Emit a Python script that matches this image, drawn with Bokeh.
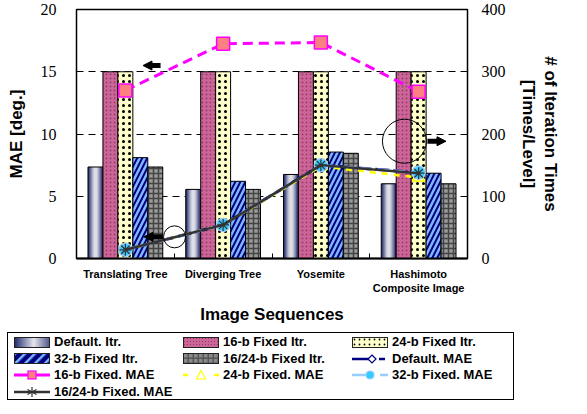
import numpy as np
from bokeh.plotting import figure
from bokeh.layouts import column
from bokeh.models import (Range1d, LinearAxis, FixedTicker, Arrow, NormalHead,
                          ColumnDataSource, Div)
from bokeh.transform import dodge
from bokeh.embed import file_html
from bokeh.resources import INLINE

categories = ["Translating Tree", "Diverging Tree", "Yosemite", "Hashimoto\nComposite Image"]
itr_default = [147, 111, 135, 120]
itr_16b = [300, 300, 300, 300]
itr_24b = [300, 300, 300, 300]
itr_32b = [162, 124, 171, 137]
itr_1624b = [147, 111, 169, 120]
mae_default = [0.7, 2.7, 7.5, 6.9]
mae_16b = [13.5, 17.25, 17.35, 13.4]
mae_24b = [0.7, 2.7, 7.4, 6.5]
mae_32b = [0.7, 2.7, 7.5, 6.9]
mae_1624b = [0.7, 2.7, 7.5, 6.85]
left_ticks = [0, 5, 10, 15, 20]
right_ticks = [0, 100, 200, 300, 400]
legend_labels = ["Default. Itr.", "16-b Fixed Itr.", "24-b Fixed Itr.",
                 "32-b Fixed Itr.", "16/24-b Fixed Itr.", "Default. MAE",
                 "16-b Fixed. MAE", "24-b Fixed. MAE", "32-b Fixed. MAE",
                 "16/24-b Fixed. MAE"]

xs = list(range(len(categories)))
src = ColumnDataSource(dict(x=xs, d=itr_default, b16=itr_16b, b24=itr_24b, b32=itr_32b,
                            b1624=itr_1624b, md=mae_default, m16=mae_16b, m24=mae_24b,
                            m32=mae_32b, m1624=mae_1624b))

FONT = "Liberation Sans"
SERIF = "Liberation Serif"
w = 0.153

p = figure(width=571, height=326, output_backend="svg", toolbar_location=None,
           x_range=Range1d(-0.5, len(categories) - 0.5), y_range=Range1d(0, 20),
           min_border_left=76, min_border_right=104, min_border_top=9, min_border_bottom=0)
p.extra_y_ranges = {"iter": Range1d(0, 400)}
p.outline_line_color = "black"
p.outline_line_width = 1.5
p.xgrid.visible = False
p.ygrid.ticker = FixedTicker(ticks=[5, 10, 15])
p.ygrid.grid_line_color = "black"
p.ygrid.grid_line_dash = "7 5"
p.ygrid.grid_line_width = 1

# Default bars: cylinder-like shading
shade_cols = ["#2B3570", "#4F5688", "#7A7FA6", "#A4A7C0", "#C8C9D8", "#DEDEE6"]
shade_fr = [1.0, 0.84, 0.68, 0.52, 0.36, 0.2]
for c, f in zip(shade_cols, shade_fr):
    p.vbar(x=dodge("x", -2 * w, range=p.x_range), top="d", width=w * f,
           source=src, y_range_name="iter", fill_color=c, line_color=None)
p.vbar(x=dodge("x", -2 * w, range=p.x_range), top="d", width=w, source=src,
       y_range_name="iter", fill_color=None, line_color="black", line_width=1)
p.vbar(x=dodge("x", -w, range=p.x_range), top="b16", width=w, source=src,
       y_range_name="iter", fill_color="#CC6699", line_color="black", line_width=1,
       hatch_pattern="dot", hatch_color="#9A3D6C", hatch_scale=4, hatch_weight=0.8)
p.vbar(x=dodge("x", 0, range=p.x_range), top="b24", width=w, source=src,
       y_range_name="iter", fill_color="#FFFFCC", line_color="black", line_width=1,
       hatch_pattern="dot", hatch_color="black", hatch_scale=6, hatch_weight=1.5)
p.vbar(x=dodge("x", w, range=p.x_range), top="b32", width=w, source=src,
       y_range_name="iter", fill_color="#000080", line_color="black", line_width=1,
       hatch_pattern="/", hatch_color="#7FB8FF", hatch_scale=10, hatch_weight=2.5)
p.vbar(x=dodge("x", 2 * w, range=p.x_range), top="b1624", width=w, source=src,
       y_range_name="iter", fill_color="#9A9A9A", line_color="black", line_width=1,
       hatch_pattern="+", hatch_color="#444444", hatch_scale=5, hatch_weight=1.5)

# MAE lines
p.line("x", "m16", source=src, line_color="#FF00FF", line_width=3, line_dash="10 6")
p.scatter("x", "m16", source=src, marker="square", size=13, fill_color="#FF8080",
          line_color="#FF00FF", line_width=1.5)
p.line("x", "md", source=src, line_color="#000080", line_width=3, line_dash="14 4")
p.scatter("x", "md", source=src, marker="diamond", size=12, fill_color="white",
          line_color="#000080", line_width=1.5)
p.line("x", "m24", source=src, line_color="#FFFF00", line_width=2.5, line_dash="6 6")
p.scatter("x", "m24", source=src, marker="triangle", size=12, fill_color=None,
          line_color="#FFFF00", line_width=1.5)
p.line("x", "m32", source=src, line_color="#99CCFF", line_width=2.5, line_dash="12 5")
p.scatter("x", "m32", source=src, marker="circle", size=13, fill_color="#33CCFF",
          line_color="#99CCFF", line_width=1.5)
p.line("x", "m1624", source=src, line_color="#333333", line_width=2.5)
p.scatter("x", "m1624", source=src, marker="asterisk", size=12,
          line_color="#333333", line_width=1.2)

# annotations: circles and arrows
p.circle(x=[0.503], y=[1.74], radius=11, radius_units="screen", fill_color=None,
         line_color="black", line_width=1)
p.circle(x=[2.855], y=[9.42], radius=22, radius_units="screen", fill_color=None,
         line_color="black", line_width=1)
for xs0, xe0, yy in [(0.36, 0.18, 15.5), (0.38, 0.19, 1.74), (3.09, 3.28, 9.42)]:
    p.add_layout(Arrow(end=NormalHead(size=9, fill_color="black", line_color="black"),
                       x_start=xs0, y_start=yy, x_end=xe0, y_end=yy,
                       line_width=5, line_color="black"))

# axes
xa = p.xaxis[0]
xa.ticker = FixedTicker(ticks=xs, minor_ticks=[i + 0.5 for i in xs[:-1]])
xa.major_label_overrides = {i: c for i, c in enumerate(categories)}
xa.major_tick_in = 0
xa.major_tick_out = 0
xa.minor_tick_in = 5
xa.minor_tick_out = 0
xa.minor_tick_line_color = "black"
xa.axis_line_color = "black"
xa.axis_line_width = 2
xa.major_label_text_font = FONT
xa.major_label_text_font_style = "bold"
xa.major_label_text_font_size = "11px"
xa.major_label_text_color = "black"
xa.major_label_standoff = 9
xa.axis_label = "Image Sequences"
xa.axis_label_text_font = FONT
xa.axis_label_text_font_style = "bold"
xa.axis_label_text_font_size = "17px"
xa.axis_label_text_color = "black"
xa.axis_label_standoff = 8

ya = p.yaxis[0]
ya.ticker = FixedTicker(ticks=left_ticks)
ya.major_tick_in = 0
ya.major_tick_out = 0
ya.minor_tick_line_color = None
ya.axis_line_color = "black"
ya.major_label_text_font = SERIF
ya.major_label_text_font_size = "16px"
ya.major_label_text_color = "black"
ya.major_label_standoff = 20
ya.axis_label = "MAE [deg.]"
ya.axis_label_text_font = FONT
ya.axis_label_text_font_style = "bold"
ya.axis_label_text_font_size = "17px"
ya.axis_label_text_color = "black"
ya.axis_label_standoff = 12

ra = LinearAxis(y_range_name="iter", ticker=FixedTicker(ticks=right_ticks))
ra.major_tick_in = 0
ra.major_tick_out = 0
ra.minor_tick_line_color = None
ra.axis_line_color = "black"
ra.major_label_text_font = SERIF
ra.major_label_text_font_size = "16px"
ra.major_label_text_color = "black"
ra.major_label_standoff = 14
ra.axis_label = "# of Iteration Times\n[Times/Level]"
ra.axis_label_text_font = FONT
ra.axis_label_text_font_style = "bold"
ra.axis_label_text_font_size = "17px"
ra.axis_label_text_color = "black"
ra.axis_label_standoff = 10
p.add_layout(ra, "right")

# ---- legend strip (HTML with inline SVG swatches) ----
def bar_swatch(fill, defs=""):
    return ('<svg width="36" height="11" style="display:block">' + defs +
            '<rect x="0.5" y="0.5" width="35" height="10" fill="%s" stroke="#222" stroke-width="1"/></svg>' % fill)


def line_swatch(color, width, dash, marker):
    d = ' stroke-dasharray="%s"' % dash if dash else ""
    return ('<svg width="36" height="12" style="display:block">'
            '<line x1="0" y1="6" x2="36" y2="6" stroke="%s" stroke-width="%s"%s/>' % (color, width, d)
            + marker + '</svg>')


swatches = [
    bar_swatch("url(#gdef)", '<defs><linearGradient id="gdef" x1="0" x2="1" y1="0" y2="0">'
               '<stop offset="0" stop-color="#1F2A6B"/><stop offset="0.55" stop-color="#E6E6EE"/>'
               '<stop offset="1" stop-color="#4F5688"/></linearGradient></defs>'),
    bar_swatch("url(#p16)", '<defs><pattern id="p16" width="3" height="3" patternUnits="userSpaceOnUse">'
               '<rect width="3" height="3" fill="#CC6699"/><circle cx="1.5" cy="1.5" r="0.6" fill="#8B2F5E"/>'
               '</pattern></defs>'),
    bar_swatch("url(#p24)", '<defs><pattern id="p24" width="5" height="5" patternUnits="userSpaceOnUse">'
               '<rect width="5" height="5" fill="#FFFFCC"/><circle cx="2.5" cy="2.5" r="0.9" fill="black"/>'
               '</pattern></defs>'),
    bar_swatch("url(#p32)", '<defs><pattern id="p32" width="7" height="7" patternUnits="userSpaceOnUse" '
               'patternTransform="rotate(45)"><rect width="7" height="7" fill="#000080"/>'
               '<rect width="2.5" height="7" fill="#7FB8FF"/></pattern></defs>'),
    bar_swatch("url(#p1624)", '<defs><pattern id="p1624" width="5" height="5" patternUnits="userSpaceOnUse">'
               '<rect width="5" height="5" fill="#555555"/><rect x="1" y="1" width="3.5" height="3.5" fill="#8A8A8A"/>'
               '</pattern></defs>'),
    line_swatch("#000080", 2.5, "21 6 6 4",
                '<polygon points="20,2 24,6 20,10 16,6" fill="white" stroke="#000080" stroke-width="1.2"/>'),
    line_swatch("#FF00FF", 3, "14 8 14",
                '<rect x="14" y="2" width="8" height="8" fill="#FF8080" stroke="#FF00FF" stroke-width="1.2"/>'),
    line_swatch("#FFFF00", 2.5, "5 26 5",
                '<polygon points="18,1.5 22.5,10 13.5,10" fill="none" stroke="#FFFF00" stroke-width="1.2"/>'),
    line_swatch("#99CCFF", 2.5, "22 6 8",
                '<circle cx="18" cy="6" r="4" fill="#33CCFF" stroke="#99CCFF" stroke-width="1.2"/>'),
    line_swatch("#333333", 2.5, "",
                '<g stroke="#333333" stroke-width="1.2"><line x1="18" y1="1" x2="18" y2="11"/>'
                '<line x1="13.5" y1="3.5" x2="22.5" y2="8.5"/><line x1="13.5" y1="8.5" x2="22.5" y2="3.5"/></g>'),
]

parts = ['<div style="position:relative;width:571px;height:72px;font-family:\'Liberation Sans\',Arial,sans-serif;'
         'font-weight:bold;font-size:13px;color:black;">',
         '<div style="position:absolute;left:2px;top:1px;width:507px;height:68px;'
         'border:1px solid black;box-sizing:border-box;background:white;"></div>']
for i, (lab, sw) in enumerate(zip(legend_labels, swatches)):
    row, col = divmod(i, 3)
    gx = 9 + col * 169
    cy = 11 + row * 16.5
    parts.append('<div style="position:absolute;left:%dpx;top:%.1fpx;height:16px;display:flex;'
                 'align-items:center;white-space:nowrap;line-height:16px;">%s'
                 '<span style="margin-left:4px;">%s</span></div>' % (gx, cy - 8, sw, lab))
parts.append('</div>')
legend_div = Div(text="".join(parts), width=571, height=72)

lay = column(p, legend_div, spacing=0)
open("out.html", "w").write(file_html(lay, INLINE))
